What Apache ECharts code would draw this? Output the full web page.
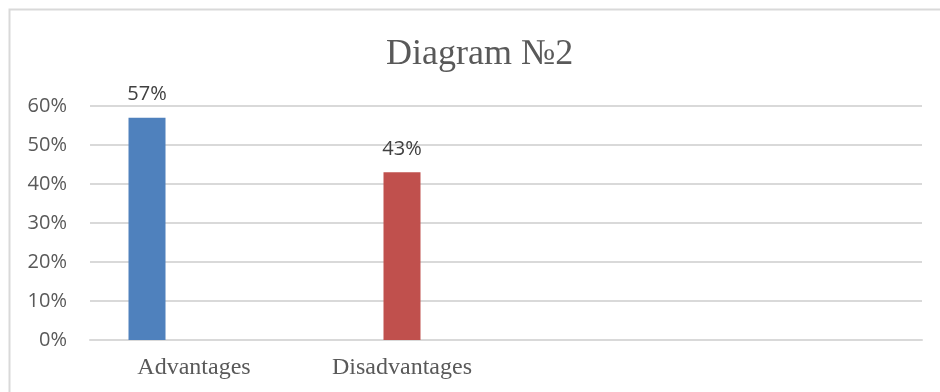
<!DOCTYPE html>
<html>
<head>
<meta charset="utf-8">
<script src="https://cdn.jsdelivr.net/npm/echarts@6/dist/echarts.min.js"></script>
<style>
  html, body { margin: 0; padding: 0; background: #fff; }
  #chart { width: 940px; height: 392px; }
</style>
</head>
<body>
<div id="chart"></div>
<script>
// 分类和数据
const categories = ['Advantages', 'Disadvantages', '', '']
const advantages = [57, null, null, null]
const disadvantages = [null, 43, null, null]
const series3 = [null, null, null, null]
const yTicks = [0, 10, 20, 30, 40, 50, 60]

const chart = echarts.init(document.getElementById('chart'))

const labelStyle = {
  show: true,
  position: 'top',
  distance: 13,
  formatter: '{c}%',
  color: '#404040',
  fontFamily: 'Open Sans',
  fontSize: 20
}

const option = {
  animation: false,
  title: {
    text: 'Diagram №2',
    left: 381,
    top: 32,
    textStyle: {
      fontFamily: 'Liberation Serif',
      fontWeight: 'normal',
      fontSize: 36,
      color: '#595959'
    }
  },
  graphic: [
    {
      type: 'rect',
      shape: { x: 9.5, y: 9.5, width: 1000, height: 500 },
      style: { fill: 'none', stroke: '#d9d9d9', lineWidth: 2 }
    }
  ],
  grid: {
    left: 90,
    right: 18,
    top: 106,
    bottom: 52
  },
  xAxis: {
    type: 'category',
    data: categories,
    axisTick: { show: false },
    axisLine: { lineStyle: { color: '#d9d9d9', width: 2 } },
    axisLabel: {
      margin: 16,
      color: '#595959',
      fontFamily: 'Liberation Serif',
      fontSize: 24
    }
  },
  yAxis: {
    type: 'value',
    min: yTicks[0],
    max: yTicks[yTicks.length - 1],
    interval: 10,
    axisLine: { show: false },
    axisTick: { show: false },
    axisLabel: {
      formatter: '{value}%',
      margin: 23,
      color: '#595959',
      fontFamily: 'Open Sans',
      fontSize: 20
    },
    splitLine: { lineStyle: { color: '#d9d9d9', width: 2 } }
  },
  series: [
    {
      name: 'Advantages',
      type: 'bar',
      data: advantages,
      barWidth: 37,
      barGap: '27%',
      itemStyle: { color: '#4f81bd' },
      label: labelStyle
    },
    {
      name: 'Disadvantages',
      type: 'bar',
      data: disadvantages,
      barWidth: 37,
      barGap: '27%',
      itemStyle: { color: '#c0504d' },
      label: labelStyle
    },
    {
      name: 'Other',
      type: 'bar',
      data: series3,
      barWidth: 37,
      barGap: '27%',
      itemStyle: { color: '#9bbb59' }
    }
  ]
}

chart.setOption(option)
</script>
</body>
</html>
